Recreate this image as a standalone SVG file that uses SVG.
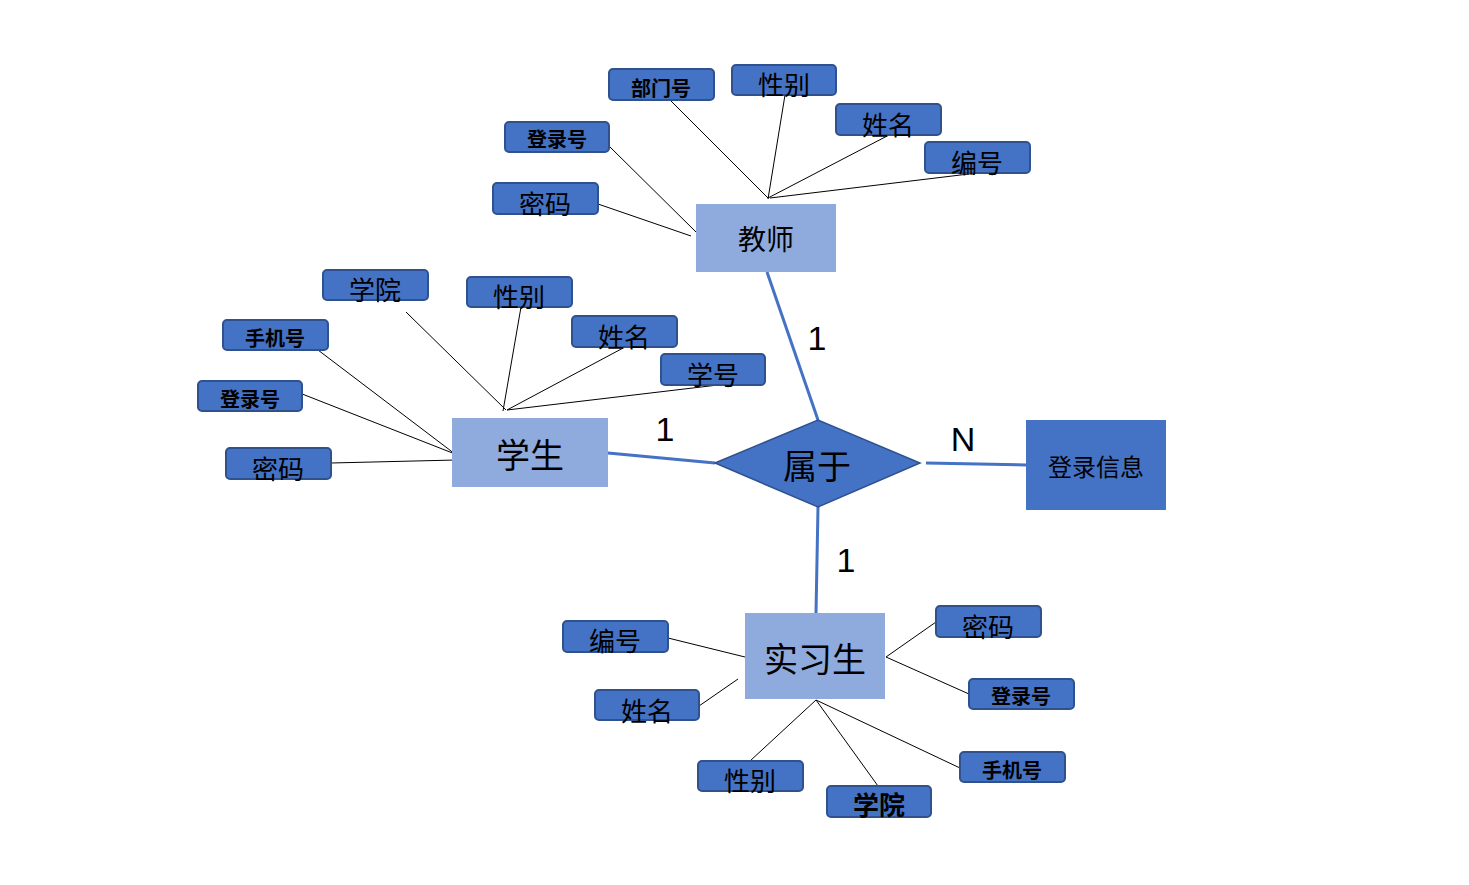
<svg xmlns="http://www.w3.org/2000/svg" width="1469" height="885" viewBox="0 0 1469 885">
<style>
.a{fill:#4472C4;stroke:#2F528F;stroke-width:2}
.e{fill:#8FAADC}
.t{font-family:"Noto Sans CJK SC","Noto Sans",sans-serif;fill:#000;text-anchor:middle;dominant-baseline:central}
.at{font-size:26px}
.ab{font-size:20px;font-weight:bold}
.thin{stroke:#000;stroke-width:1;fill:none}
.rel{stroke:#4472C4;stroke-width:3;fill:none}
.n{font-family:"Liberation Sans","Noto Sans",sans-serif;font-size:34px;fill:#000;text-anchor:middle;dominant-baseline:central}
</style>
<rect width="1469" height="885" fill="#fff"/>
<g id="connectors">
<line class="rel" x1="767" y1="272" x2="818" y2="420"/>
<line class="rel" x1="608" y1="453" x2="715" y2="463"/>
<line class="rel" x1="926" y1="463" x2="1026" y2="465"/>
<line class="rel" x1="818" y1="507" x2="816" y2="613"/>
<line class="thin" x1="670" y1="100" x2="768" y2="198"/>
<line class="thin" x1="785" y1="95" x2="768" y2="199"/>
<line class="thin" x1="889" y1="135" x2="768" y2="198"/>
<line class="thin" x1="977" y1="173" x2="770" y2="198"/>
<line class="thin" x1="609" y1="146" x2="696" y2="232"/>
<line class="thin" x1="598" y1="204" x2="691" y2="236"/>
<line class="thin" x1="406" y1="312" x2="506" y2="410"/>
<line class="thin" x1="521" y1="307" x2="503" y2="411"/>
<line class="thin" x1="625" y1="347" x2="507" y2="410"/>
<line class="thin" x1="718" y1="385" x2="507" y2="410"/>
<line class="thin" x1="318" y1="350" x2="455" y2="454"/>
<line class="thin" x1="292" y1="390" x2="455" y2="454"/>
<line class="thin" x1="331" y1="463" x2="456" y2="460"/>
<line class="thin" x1="668" y1="638" x2="745" y2="657"/>
<line class="thin" x1="699" y1="706" x2="738" y2="679"/>
<line class="thin" x1="936" y1="622" x2="886" y2="657"/>
<line class="thin" x1="969" y1="694" x2="886" y2="657"/>
<line class="thin" x1="750" y1="761" x2="816" y2="700"/>
<line class="thin" x1="878" y1="786" x2="816" y2="700"/>
<line class="thin" x1="960" y1="768" x2="816" y2="700"/>
</g>
<g id="labels">
<text class="n" x="817" y="338">1</text>
<text class="n" x="665" y="429">1</text>
<text class="n" x="963" y="439">N</text>
<text class="n" x="846" y="560">1</text>
</g>
<g id="teacher"><rect class="e" x="696" y="204" width="140" height="68"/><text class="t" x="766" y="238" font-size="28">教师</text></g>
<g id="student"><rect class="e" x="452" y="418" width="156" height="69"/><text class="t" x="530" y="453" font-size="34">学生</text></g>
<g id="intern"><rect class="e" x="745" y="613" width="140" height="86"/><text class="t" x="815" y="657" font-size="34">实习生</text></g>
<g id="belong"><polygon points="715,463 818,420 920,463 818,507" fill="#4472C4" stroke="#2F528F" stroke-width="1.5"/><text class="t" x="817" y="464" font-size="34">属于</text></g>
<g id="login-info"><rect x="1026" y="420" width="140" height="90" fill="#4472C4"/><text class="t" x="1096" y="465" font-size="24">登录信息</text></g>

<g id="t-dept"><rect class="a" x="609" y="69" width="105" height="31" rx="4"/><text class="t ab" x="661" y="87">部门号</text></g>
<g id="t-sex"><rect class="a" x="732" y="65" width="104" height="30" rx="4"/><text class="t at" x="784" y="83">性别</text></g>
<g id="t-login"><rect class="a" x="505" y="122" width="104" height="30" rx="4"/><text class="t ab" x="557" y="138">登录号</text></g>
<g id="t-name"><rect class="a" x="836" y="104" width="105" height="31" rx="4"/><text class="t at" x="888" y="123">姓名</text></g>
<g id="t-id"><rect class="a" x="925" y="142" width="105" height="31" rx="4"/><text class="t at" x="977" y="161">编号</text></g>
<g id="t-pwd"><rect class="a" x="493" y="183" width="105" height="31" rx="4"/><text class="t at" x="545" y="202">密码</text></g>

<g id="s-college"><rect class="a" x="323" y="270" width="105" height="30" rx="4"/><text class="t at" x="375" y="288">学院</text></g>
<g id="s-sex"><rect class="a" x="467" y="277" width="105" height="30" rx="4"/><text class="t at" x="519" y="295">性别</text></g>
<g id="s-phone"><rect class="a" x="223" y="320" width="105" height="30" rx="4"/><text class="t ab" x="275" y="337">手机号</text></g>
<g id="s-name"><rect class="a" x="572" y="316" width="105" height="31" rx="4"/><text class="t at" x="624" y="335">姓名</text></g>
<g id="s-login"><rect class="a" x="198" y="381" width="104" height="30" rx="4"/><text class="t ab" x="250" y="398">登录号</text></g>
<g id="s-sno"><rect class="a" x="661" y="354" width="104" height="31" rx="4"/><text class="t at" x="713" y="373">学号</text></g>
<g id="s-pwd"><rect class="a" x="226" y="448" width="105" height="31" rx="4"/><text class="t at" x="278" y="467">密码</text></g>

<g id="i-id"><rect class="a" x="563" y="621" width="105" height="31" rx="4"/><text class="t at" x="615" y="639">编号</text></g>
<g id="i-name"><rect class="a" x="595" y="690" width="104" height="30" rx="4"/><text class="t at" x="647" y="709">姓名</text></g>
<g id="i-pwd"><rect class="a" x="936" y="606" width="105" height="31" rx="4"/><text class="t at" x="988" y="625">密码</text></g>
<g id="i-login"><rect class="a" x="969" y="679" width="105" height="30" rx="4"/><text class="t ab" x="1021" y="695">登录号</text></g>
<g id="i-phone"><rect class="a" x="960" y="752" width="105" height="30" rx="4"/><text class="t ab" x="1012" y="769">手机号</text></g>
<g id="i-sex"><rect class="a" x="698" y="761" width="105" height="30" rx="4"/><text class="t at" x="750" y="779">性别</text></g>
<g id="i-college"><rect class="a" x="827" y="786" width="104" height="31" rx="4"/><text class="t at" x="879" y="803" font-weight="bold">学院</text></g>
</svg>
